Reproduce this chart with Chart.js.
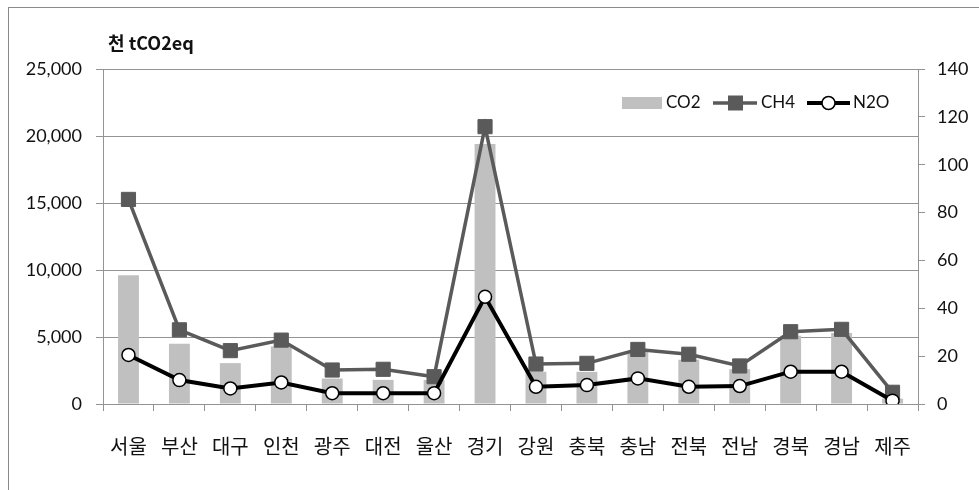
<!DOCTYPE html>
<html lang="ko">
<head>
<meta charset="utf-8">
<title>지역별 온실가스 배출량</title>
<script src="https://cdn.jsdelivr.net/npm/chart.js@4.4.1/dist/chart.umd.min.js"></script>
<style>
  html, body { margin: 0; padding: 0; background: #fff; }
  #wrap { position: relative; width: 979px; height: 490px; overflow: hidden; }
  #frame { position: absolute; left: 8px; top: 7px; width: 1000px; height: 500px;
           border-left: 1px solid #8a8a8a; border-top: 1px solid #8a8a8a; }
  #chart { position: absolute; left: 0; top: 0; }
</style>
</head>
<body>
<div id="wrap">
  <div id="frame"></div>
  <canvas id="chart" width="979" height="490"></canvas>
</div>
<script>
// regions on the x axis
const regions = ['서울', '부산', '대구', '인천', '광주', '대전', '울산', '경기',
                 '강원', '충북', '충남', '전북', '전남', '경북', '경남', '제주'];
// CO2, left axis (천 tCO2eq)
const co2 = [9600, 4500, 3050, 4300, 1900, 1800, 1800, 19400,
             2400, 2400, 3900, 3300, 2600, 5100, 5300, 400];
// CH4 and N2O, right axis
const ch4 = [85.5, 31, 22.3, 26.7, 14.2, 14.5, 11.4, 115.9,
             16.7, 17, 22.8, 20.8, 15.9, 30.2, 31.2, 4.9];
const n2o = [20.5, 10, 6.5, 9, 4.5, 4.5, 4.5, 44.8,
             7.2, 7.9, 10.7, 7.2, 7.5, 13.5, 13.5, 1.4];
const unitLabel = '천 tCO2eq';

const gridGray = '#939393';
const textColor = '#111';
const numFont = 'Lato, "Liberation Sans", sans-serif';
const korFont = '"Noto Sans CJK KR", "Noto Sans", sans-serif';

// unit caption + legend drawn on top of the plot
const overlay = {
  id: 'overlay',
  afterDraw(chart) {
    const ctx = chart.ctx;
    const ds = chart.data.datasets;
    ctx.save();
    ctx.fillStyle = textColor;
    ctx.textBaseline = 'middle';
    ctx.font = 'bold 18px ' + korFont;
    ctx.fillText(unitLabel, 108, 43);

    const y = 103;
    ctx.font = '17px ' + numFont;
    // CO2 swatch
    ctx.fillStyle = ds[0].backgroundColor;
    ctx.fillRect(622, y - 6, 40, 12);
    ctx.fillStyle = textColor;
    ctx.fillText(ds[0].label, 666, y);
    // CH4 swatch
    ctx.strokeStyle = ds[1].borderColor;
    ctx.lineWidth = ds[1].borderWidth;
    ctx.beginPath(); ctx.moveTo(713, y); ctx.lineTo(757, y); ctx.stroke();
    ctx.fillStyle = ds[1].pointBackgroundColor;
    ctx.fillRect(728, y - 7.5, 15, 15);
    ctx.fillStyle = textColor;
    ctx.fillText(ds[1].label, 761, y);
    // N2O swatch
    ctx.strokeStyle = ds[2].borderColor;
    ctx.lineWidth = ds[2].borderWidth;
    ctx.beginPath(); ctx.moveTo(807, y); ctx.lineTo(850, y); ctx.stroke();
    ctx.fillStyle = ds[2].pointBackgroundColor;
    ctx.lineWidth = ds[2].pointBorderWidth;
    ctx.beginPath(); ctx.arc(828.5, y, ds[2].pointRadius, 0, Math.PI * 2);
    ctx.fill(); ctx.stroke();
    ctx.fillStyle = textColor;
    ctx.fillText(ds[2].label, 853, y);
    ctx.restore();
  }
};

new Chart(document.getElementById('chart'), {
  type: 'bar',
  data: {
    labels: regions,
    datasets: [
      {
        label: 'CO2',
        data: co2,
        yAxisID: 'y',
        backgroundColor: '#c0c0c0',
        categoryPercentage: 1,
        barPercentage: 0.41,
        order: 3
      },
      {
        type: 'line',
        label: 'CH4',
        data: ch4,
        yAxisID: 'y1',
        borderColor: '#5a5a5a',
        borderWidth: 3.5,
        pointStyle: 'rect',
        pointRadius: 10,
        pointBackgroundColor: '#5a5a5a',
        pointBorderColor: '#5a5a5a',
        pointBorderWidth: 1,
        tension: 0,
        order: 2
      },
      {
        type: 'line',
        label: 'N2O',
        data: n2o,
        yAxisID: 'y1',
        borderColor: '#000',
        borderWidth: 4,
        pointStyle: 'circle',
        pointRadius: 6.5,
        pointBackgroundColor: '#fff',
        pointBorderColor: '#000',
        pointBorderWidth: 1.5,
        tension: 0,
        order: 1
      }
    ]
  },
  options: {
    responsive: false,
    animation: false,
    layout: { padding: { top: 69, left: 0, right: 0, bottom: 26 } },
    plugins: { legend: { display: false }, tooltip: { enabled: false } },
    scales: {
      x: {
        offset: true,
        grid: { drawOnChartArea: false, offset: true, color: gridGray, tickLength: 7 },
        border: { color: gridGray },
        ticks: { color: textColor, font: { family: korFont, size: 20 }, padding: 23, maxRotation: 0, autoSkip: false },
        afterFit(s) { s.height = 60; }
      },
      y: {
        position: 'left',
        min: 0, max: 25000,
        ticks: {
          stepSize: 5000, color: textColor, padding: 14,
          font: { family: numFont, size: 18 },
          callback: v => v.toLocaleString('en-US')
        },
        grid: { color: gridGray, tickLength: 7 },
        border: { color: gridGray },
        afterFit(s) { s.width = 103; }
      },
      y1: {
        position: 'right',
        min: 0, max: 140,
        ticks: { stepSize: 20, color: textColor, padding: 12, font: { family: numFont, size: 18 } },
        grid: { drawOnChartArea: false, color: gridGray, tickLength: 7 },
        border: { color: gridGray },
        afterFit(s) { s.width = 61; }
      }
    }
  },
  plugins: [overlay]
});
</script>
</body>
</html>
